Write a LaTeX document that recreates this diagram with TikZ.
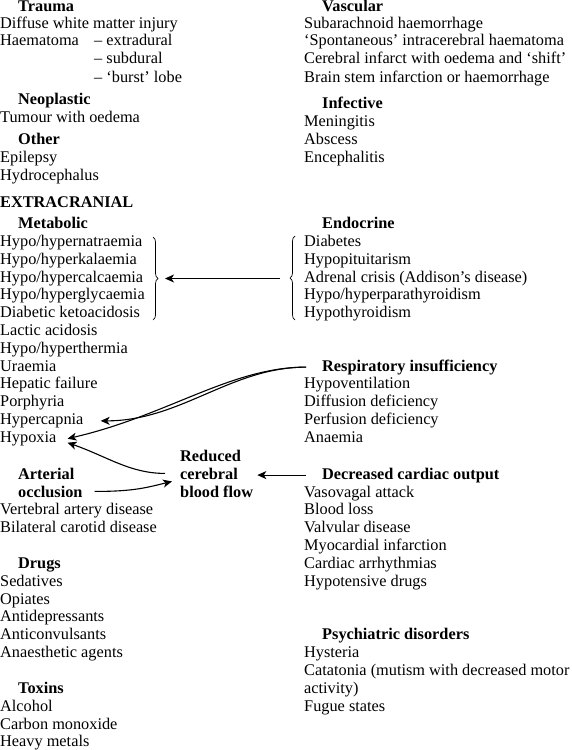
\documentclass[tikz,border=0pt]{standalone}
\usepackage{fontspec}
\setmainfont{Liberation Serif}
\usetikzlibrary{arrows.meta,decorations.pathreplacing}
\tikzset{
  it/.style={anchor=base west, inner sep=0pt, font=\fontsize{16.3bp}{17.8bp}\selectfont},
  hd/.style={anchor=base west, inner sep=0pt, font=\fontsize{16.3bp}{17.8bp}\selectfont\bfseries},
  arr/.style={-{Stealth[length=9bp,width=8bp,inset=2.5bp]}, line width=1.1bp},
  brc/.style={decorate, decoration={brace, amplitude=5bp}, line width=0.7bp}
}
\begin{document}
\begin{tikzpicture}[x=1bp,y=-1bp]
\useasboundingbox (0,0) rectangle (572,750);
% ---------- left column ----------
\node[hd] (trauma) at (18,11.5) {Trauma};
\node[it] (diffuse) at (0,28.6) {Diffuse white matter injury};
\node[it] (haem) at (0,46) {Haematoma};
\node[it] (extra) at (94,46) {-- extradural};
\node[it] (subd) at (94,64) {-- subdural};
\node[it] (burst) at (94,82) {-- `burst' lobe};
\node[hd] (neo) at (18,104) {Neoplastic};
\node[it] (tumour) at (0,122) {Tumour with oedema};
\node[hd] (other) at (18,144) {Other};
\node[it] (epil) at (0,162) {Epilepsy};
\node[it] (hydro) at (0,180) {Hydrocephalus};
\node[hd] (extracr) at (0,207) {EXTRACRANIAL};
\node[hd] (metab) at (18,228.5) {Metabolic};
\node[it] (natr) at (0,246.5) {Hypo/hypernatraemia};
\node[it] (kal) at (0,264.3) {Hypo/hyperkalaemia};
\node[it] (calc) at (0,282.1) {Hypo/hypercalcaemia};
\node[it] (glyc) at (0,299.9) {Hypo/hyperglycaemia};
\node[it] (keto) at (0,317.7) {Diabetic ketoacidosis};
\node[it] (lactic) at (0,335.5) {Lactic acidosis};
\node[it] (therm) at (0,353.3) {Hypo/hyperthermia};
\node[it] (uraem) at (0,371.1) {Uraemia};
\node[it] (hepat) at (0,388.9) {Hepatic failure};
\node[it] (porph) at (0,406.7) {Porphyria};
\node[it] (hcap) at (0,424.5) {Hypercapnia};
\node[it] (hypox) at (0,442.3) {Hypoxia};
\node[hd] (reduced) at (180,461) {Reduced};
\node[hd] (cerebral) at (180,479) {cerebral};
\node[hd] (bloodflow) at (180,497) {blood flow};
\node[hd] (arterial) at (18,479) {Arterial};
\node[hd] (occl) at (18,497) {occlusion};
\node[it] (vert) at (0,514.5) {Vertebral artery disease};
\node[it] (bilat) at (0,532.3) {Bilateral carotid disease};
\node[hd] (drugs) at (18,568) {Drugs};
\node[it] (sed) at (0,586) {Sedatives};
\node[it] (opi) at (0,604) {Opiates};
\node[it] (antidep) at (0,621.7) {Antidepressants};
\node[it] (anticonv) at (0,639.5) {Anticonvulsants};
\node[it] (anaest) at (0,657.5) {Anaesthetic agents};
\node[hd] (toxins) at (18,693) {Toxins};
\node[it] (alcohol) at (0,711) {Alcohol};
\node[it] (cmono) at (0,729) {Carbon monoxide};
\node[it] (heavy) at (0,746.5) {Heavy metals};
% ---------- right column ----------
\node[hd] (vasc) at (322,11.5) {Vascular};
\node[it] (subar) at (304,28.6) {Subarachnoid haemorrhage};
\node[it] (spont) at (304,46) {`Spontaneous' intracerebral haematoma};
\node[it] (infarct) at (304,64) {Cerebral infarct with oedema and `shift'};
\node[it] (brainstem) at (304,82) {Brain stem infarction or haemorrhage};
\node[hd] (infect) at (322,108) {Infective};
\node[it] (mening) at (304,126) {Meningitis};
\node[it] (absc) at (304,144) {Abscess};
\node[it] (enceph) at (304,162) {Encephalitis};
\node[hd] (endo) at (322,228.5) {Endocrine};
\node[it] (diab) at (304,246.5) {Diabetes};
\node[it] (hypopit) at (304,264.3) {Hypopituitarism};
\node[it] (adrenal) at (304,282.1) {Adrenal crisis (Addison's disease)};
\node[it] (parath) at (304,299.9) {Hypo/hyperparathyroidism};
\node[it] (thyr) at (304,317.7) {Hypothyroidism};
\node[hd] (resp) at (322,371.1) {Respiratory insufficiency};
\node[it] (hypovent) at (304,388.9) {Hypoventilation};
\node[it] (diffus) at (304,406.7) {Diffusion deficiency};
\node[it] (perfus) at (304,424.5) {Perfusion deficiency};
\node[it] (anaemia) at (304,442.3) {Anaemia};
\node[hd] (decr) at (322,479) {Decreased cardiac output};
\node[it] (vaso) at (304,497) {Vasovagal attack};
\node[it] (bloodloss) at (304,514.5) {Blood loss};
\node[it] (valv) at (304,532.3) {Valvular disease};
\node[it] (myo) at (304,550) {Myocardial infarction};
\node[it] (arrhy) at (304,568) {Cardiac arrhythmias};
\node[it] (hypot) at (304,586) {Hypotensive drugs};
\node[hd] (psych) at (322,639.5) {Psychiatric disorders};
\node[it] (hyster) at (304,657.5) {Hysteria};
\node[it] (catat) at (304,675.2) {Catatonia (mutism with decreased motor};
\node[it] (activ) at (304,693) {activity)};
\node[it] (fugue) at (304,711) {Fugue states};
% ---------- braces ----------
\draw[brc] (153,237) -- (153,320);
\draw[brc] (295,320) -- (295,236);
\coordinate (lbt) at (158,278.5);
\coordinate (rbt) at (290,278.5);
\draw[arr, shorten <=10bp, shorten >=7bp] (rbt) -- (lbt);
% ---------- connectors ----------
\draw[arr] ([xshift=-16bp]resp.west) .. controls +(-75,0) and +(80,0) .. ([xshift=17bp]hcap.east);
\draw[arr] ([xshift=-16bp]resp.west) .. controls +(-75,0) and +(100,-23) .. ([xshift=11bp]hypox.east);
\draw[arr] ([xshift=-15bp]cerebral.west) .. controls +(-35,0) and +(40,14) .. ([shift={(11,4)}]hypox.east);
\draw[arr] ([xshift=12bp]occl.east) .. controls +(40,0) and +(-25,6) .. ([shift={(-8,8)}]cerebral.west);
\path (bloodflow.east |- decr.west) coordinate (dtip);
\draw[arr, shorten >=4bp] ([xshift=-16bp]decr.west) -- (dtip);
\end{tikzpicture}
\end{document}
